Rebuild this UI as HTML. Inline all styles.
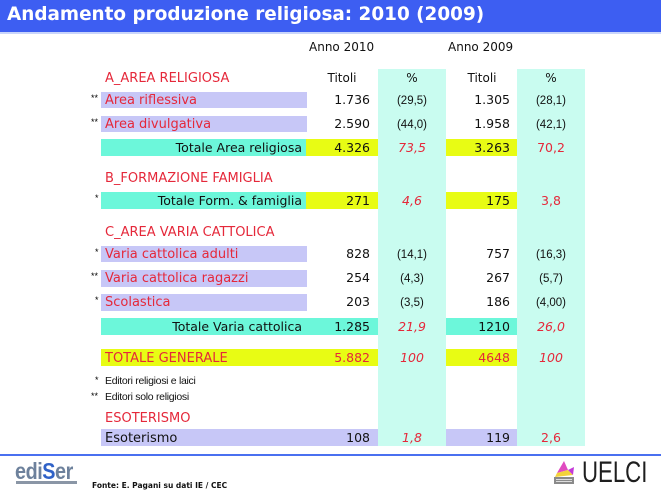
<!DOCTYPE html>
<html><head><meta charset="utf-8">
<style>
*{margin:0;padding:0;box-sizing:border-box}
html,body{width:661px;height:495px;background:#fff;overflow:hidden}
body{position:relative;font-family:"DejaVu Sans","Liberation Sans",sans-serif}
.a{position:absolute}
.t{position:absolute;white-space:nowrap;line-height:16px;height:16px}
.red{color:#e5283a}
.lab{font-size:13px;left:105px;margin-top:1px}
.num{font-size:12.5px;width:100px;text-align:right;color:#111}
.pc{font-size:11.5px;width:80px;text-align:center;font-family:"Liberation Sans",sans-serif;color:#111}
.pi{font-size:12.5px;width:80px;text-align:center;font-style:italic;color:#e5283a}
.pr{font-size:12.5px;width:80px;text-align:center;color:#e5283a}
.tot{font-size:12.5px;width:200px;text-align:right;left:102px;color:#111}
.st{font-size:9px;font-family:"Liberation Sans",sans-serif;color:#000 !important}
.lav{background:#c7c7f7}
.aq{background:#6cf7da}
.ye{background:#e8fc14}
.cy{background:#c9fcf0}
.fn{font-size:10.5px;font-family:"Liberation Sans",sans-serif;color:#111;left:105px;letter-spacing:-0.3px}
</style></head><body>
<!-- title bar -->
<div class="a" style="left:0;top:0;width:661px;height:32px;background:#3d5ef2"></div>
<div class="a" style="left:0;top:32px;width:661px;height:2px;background:#c9d5fb"></div>
<div class="t" style="left:7px;top:4px;height:22px;line-height:22px;font-size:18.4px;font-weight:bold;color:#fff">Andamento produzione religiosa: 2010 (2009)</div>

<!-- light cyan columns -->
<div class="a cy" style="left:378px;top:69px;width:68px;height:377px"></div>
<div class="a cy" style="left:517px;top:69px;width:68px;height:377px"></div>

<!-- headers -->
<div class="t" style="left:309px;top:39px;font-size:12px;color:#111">Anno 2010</div>
<div class="t" style="left:448px;top:39px;font-size:12px;color:#111">Anno 2009</div>
<div class="t red lab" style="top:70px">A_AREA RELIGIOSA</div>
<div class="t" style="left:302px;width:80px;text-align:center;top:70px;font-size:12px;color:#111">Titoli</div>
<div class="t" style="left:372px;width:80px;text-align:center;top:70px;font-size:12px;color:#111">%</div>
<div class="t" style="left:442px;width:80px;text-align:center;top:70px;font-size:12px;color:#111">Titoli</div>
<div class="t" style="left:511px;width:80px;text-align:center;top:70px;font-size:12px;color:#111">%</div>

<!-- Area riflessiva -->
<div class="a lav" style="left:101px;top:92px;width:206px;height:16px"></div>
<div class="t st" style="left:91px;top:90px">**</div>
<div class="t red lab" style="top:92px">Area riflessiva</div>
<div class="t num" style="left:270px;top:92px">1.736</div>
<div class="t pc" style="left:372px;top:93px">(29,5)</div>
<div class="t num" style="left:410px;top:92px">1.305</div>
<div class="t pc" style="left:511px;top:93px">(28,1)</div>

<!-- Area divulgativa -->
<div class="a lav" style="left:101px;top:116px;width:206px;height:16px"></div>
<div class="t st" style="left:91px;top:114px">**</div>
<div class="t red lab" style="top:116px">Area divulgativa</div>
<div class="t num" style="left:270px;top:116px">2.590</div>
<div class="t pc" style="left:372px;top:117px">(44,0)</div>
<div class="t num" style="left:410px;top:116px">1.958</div>
<div class="t pc" style="left:511px;top:117px">(42,1)</div>

<!-- Totale Area religiosa -->
<div class="a aq" style="left:101px;top:139px;width:205px;height:17px"></div>
<div class="a ye" style="left:306px;top:139px;width:72px;height:17px"></div>
<div class="a ye" style="left:446px;top:139px;width:71px;height:17px"></div>
<div class="t tot" style="top:140px">Totale Area religiosa</div>
<div class="t num" style="left:270px;top:140px">4.326</div>
<div class="t pi" style="left:372px;top:140px">73,5</div>
<div class="t num" style="left:410px;top:140px">3.263</div>
<div class="t pr" style="left:511px;top:140px">70,2</div>

<!-- B -->
<div class="t red lab" style="top:170px">B_FORMAZIONE FAMIGLIA</div>
<div class="a aq" style="left:101px;top:192px;width:205px;height:17px"></div>
<div class="a ye" style="left:306px;top:192px;width:72px;height:17px"></div>
<div class="a ye" style="left:446px;top:192px;width:71px;height:17px"></div>
<div class="t st" style="left:95px;top:190px">*</div>
<div class="t tot" style="top:193px">Totale Form. &amp; famiglia</div>
<div class="t num" style="left:270px;top:193px">271</div>
<div class="t pi" style="left:372px;top:193px">4,6</div>
<div class="t num" style="left:410px;top:193px">175</div>
<div class="t pr" style="left:511px;top:193px">3,8</div>

<!-- C -->
<div class="t red lab" style="top:224px">C_AREA VARIA CATTOLICA</div>

<div class="a lav" style="left:101px;top:246px;width:206px;height:16px"></div>
<div class="t st" style="left:95px;top:244px">*</div>
<div class="t red lab" style="top:246px">Varia cattolica adulti</div>
<div class="t num" style="left:270px;top:246px">828</div>
<div class="t pc" style="left:372px;top:247px">(14,1)</div>
<div class="t num" style="left:410px;top:246px">757</div>
<div class="t pc" style="left:511px;top:247px">(16,3)</div>

<div class="a lav" style="left:101px;top:270px;width:206px;height:17px"></div>
<div class="t st" style="left:91px;top:268px">**</div>
<div class="t red lab" style="top:270px">Varia cattolica ragazzi</div>
<div class="t num" style="left:270px;top:270px">254</div>
<div class="t pc" style="left:372px;top:271px">(4,3)</div>
<div class="t num" style="left:410px;top:270px">267</div>
<div class="t pc" style="left:511px;top:271px">(5,7)</div>

<div class="a lav" style="left:101px;top:294px;width:206px;height:17px"></div>
<div class="t st" style="left:95px;top:292px">*</div>
<div class="t red lab" style="top:294px">Scolastica</div>
<div class="t num" style="left:270px;top:294px">203</div>
<div class="t pc" style="left:372px;top:295px">(3,5)</div>
<div class="t num" style="left:410px;top:294px">186</div>
<div class="t pc" style="left:511px;top:295px">(4,00)</div>

<div class="a aq" style="left:101px;top:318px;width:277px;height:17px"></div>
<div class="a aq" style="left:446px;top:318px;width:71px;height:17px"></div>
<div class="t tot" style="top:319px">Totale Varia cattolica</div>
<div class="t num" style="left:270px;top:319px">1.285</div>
<div class="t pi" style="left:372px;top:319px">21,9</div>
<div class="t num" style="left:410px;top:319px">1210</div>
<div class="t pi" style="left:511px;top:319px">26,0</div>

<!-- TOTALE GENERALE -->
<div class="a ye" style="left:101px;top:349px;width:277px;height:17px"></div>
<div class="a ye" style="left:446px;top:349px;width:71px;height:17px"></div>
<div class="t red lab" style="top:350px">TOTALE GENERALE</div>
<div class="t num" style="left:270px;top:350px;color:#e5283a">5.882</div>
<div class="t pi" style="left:372px;top:350px">100</div>
<div class="t num" style="left:410px;top:350px;color:#e5283a">4648</div>
<div class="t pi" style="left:511px;top:350px">100</div>

<!-- footnotes -->
<div class="t st" style="left:95px;top:372px">*</div>
<div class="t fn" style="top:373px">Editori religiosi e laici</div>
<div class="t st" style="left:91px;top:388px">**</div>
<div class="t fn" style="top:389px">Editori solo religiosi</div>

<!-- Esoterismo -->
<div class="t red lab" style="top:410px">ESOTERISMO</div>
<div class="a lav" style="left:101px;top:429px;width:277px;height:17px"></div>
<div class="a lav" style="left:446px;top:429px;width:71px;height:17px"></div>
<div class="t" style="left:105px;top:431px;font-size:13px;color:#111">Esoterismo</div>
<div class="t num" style="left:270px;top:430px">108</div>
<div class="t pi" style="left:372px;top:430px">1,8</div>
<div class="t num" style="left:410px;top:430px">119</div>
<div class="t pr" style="left:511px;top:430px">2,6</div>

<!-- bottom line -->
<div class="a" style="left:0;top:454px;width:661px;height:2px;background:#4a70f0"></div>

<!-- ediSer logo -->
<div class="t" style="left:15px;top:460px;height:22px;line-height:22px;font-size:23px;font-family:'Liberation Sans',sans-serif;font-weight:bold;color:#6d819c;transform:scaleX(0.86);transform-origin:left center;letter-spacing:-0.5px">edi<span style="color:#2f62c8">S</span>er</div>
<div class="a" style="left:16px;top:481px;width:61px;height:3px;background:#8a96a6"></div>

<div class="t" style="left:92px;top:478px;font-size:7.5px;font-weight:bold;color:#111">Fonte: E. Pagani su dati IE / CEC</div>

<!-- UELCI logo -->
<svg class="a" style="left:553px;top:461px" width="22" height="23" viewBox="0 0 22 23">
<polygon points="11,0 15,9 4,12" fill="#e04ac0"/>
<polygon points="4,12 15,9 20,14 2,16" fill="#f3d23a"/>
<polygon points="15,9 21,6 20,14" fill="#c33ad8"/>
<rect x="1" y="16" width="20" height="7" fill="#8a8a8a"/>
<rect x="3" y="18" width="16" height="1" fill="#ddd"/>
<rect x="3" y="20" width="16" height="1" fill="#ddd"/>
</svg>
<div class="t" style="left:582px;top:458px;height:30px;line-height:30px;font-size:30px;font-family:'Liberation Sans',sans-serif;color:#1e1e1e;transform:scaleX(0.74);transform-origin:left center">UELCI</div>
</body></html>
